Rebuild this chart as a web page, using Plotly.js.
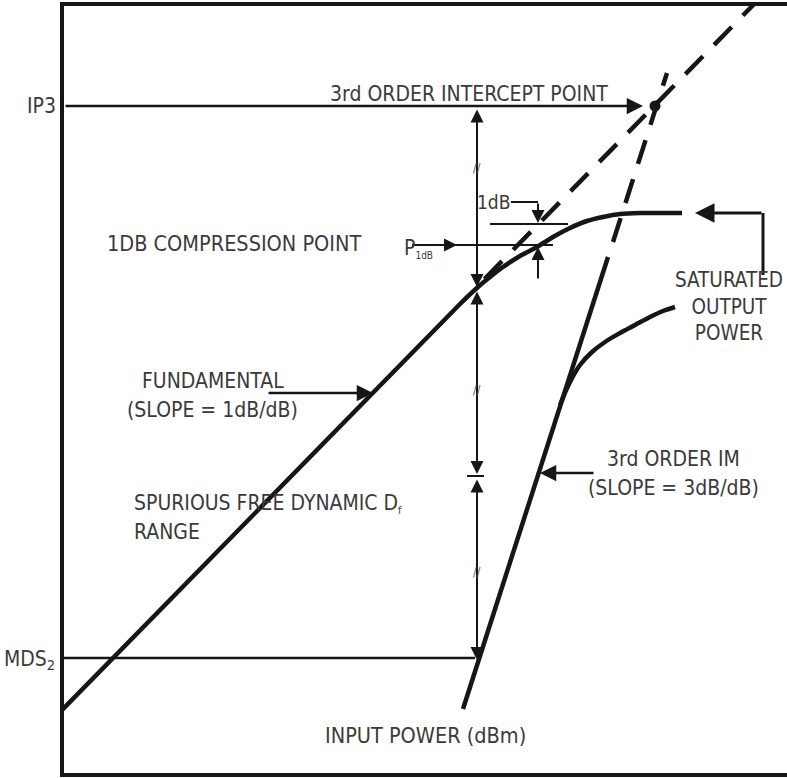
<!DOCTYPE html>
<html><head><meta charset="utf-8">
<script src="https://cdn.plot.ly/plotly-3.0.1.min.js"></script>
<style>html,body{margin:0;padding:0;background:#fff}#chart{width:787px;height:778px}</style>
</head><body><div id="chart"></div>
<script>
// Input power (x) and output power (y), dB units
const fundamentalIn  = [0, 79.6, 83.2, 85.6, 88.2, 91.6, 95.0, 98.2, 101.6, 105.0, 108.2, 111.6, 115.6, 124.0];
const fundamentalOut = [13, 94.2, 97.6, 99.6, 101.6, 103.8, 105.6, 107.6, 109.4, 110.8, 111.6, 112.2, 112.4, 112.4];
const fundamentalExtIn  = [84.5, 140];
const fundamentalExtOut = [99.2, 155.8];
const im3In  = [80.2, 109.2];
const im3Out = [13.2, 103.6];
const im3ExtIn  = [110.2, 121.0];
const im3ExtOut = [106.6, 140.4];
const im3SatIn  = [99.6, 101.6, 103.6, 106.0, 108.6, 111.6, 114.6, 117.6, 120.2, 122.6];
const im3SatOut = [74.0, 78.6, 82.0, 84.6, 86.6, 88.4, 90.0, 91.6, 92.8, 93.6];
const interceptIn = [118.6];
const interceptOut = [133.8];
// Levels and reference points
const ip3Level = 133.8;
const mdsLevel = 23.4;
const p1dbIn = 95.2;
const p1dbOut = 106.0;
const p1dbLinearOut = 110.2;
const sfdrMid = 59.8;
const measureIn = 83;
const satLevel = 112.4;
const satLeaderIn = 140.2;
// Labels
const labels = {
  ip3: 'IP3', mds: 'MDS<sub>2</sub>', toi: '3rd ORDER INTERCEPT POINT',
  comp: '1DB COMPRESSION POINT', p1db: 'P<sub><span style="font-size:10px">1dB</span></sub>', oneDb: '1dB',
  sat: 'SATURATED<br>OUTPUT<br>POWER', fund1: 'FUNDAMENTAL', fund2: '(SLOPE = 1dB/dB)',
  sfdr1: 'SPURIOUS FREE DYNAMIC D<sub><span style="font-size:11px">f</span></sub>', sfdr2: 'RANGE',
  im1: '3rd ORDER IM', im2: '(SLOPE = 3dB/dB)', xlab: 'INPUT POWER (dBm)'
};

const LC = '#161616';
const TC = '#3a3a3a';
const FONT = 'DejaVu Sans Condensed, DejaVu Sans, sans-serif';

function seg(x, y, w) {
  return {x: x, y: y, mode: 'lines', line: {color: LC, width: w}, hoverinfo: 'skip'};
}
const traces = [
  {x: fundamentalIn, y: fundamentalOut, mode: 'lines', line: {color: LC, width: 4.5, shape: 'spline', smoothing: 0.6}},
  {x: fundamentalExtIn, y: fundamentalExtOut, mode: 'lines', line: {color: LC, width: 4.5, dash: '25px,16px'}},
  {x: im3In, y: im3Out, mode: 'lines', line: {color: LC, width: 4.5}},
  {x: im3ExtIn, y: im3ExtOut, mode: 'lines', line: {color: LC, width: 4.5, dash: '25px,16px'}},
  {x: im3SatIn, y: im3SatOut, mode: 'lines', line: {color: LC, width: 4.5, shape: 'spline', smoothing: 1}},
  {x: interceptIn, y: interceptOut, mode: 'markers', marker: {color: LC, size: 11}},
  seg([0, measureIn - 0.4], [mdsLevel, mdsLevel], 2.5),
  seg([85.6, 101.2], [p1dbLinearOut, p1dbLinearOut], 2),
  seg([70, 98.2], [p1dbOut, p1dbOut], 2),
  seg([89.8, p1dbIn], [114.6, 114.6], 2),
  seg([satLeaderIn, satLeaderIn], [100, satLevel], 3),
  seg([81, 84.4], [sfdrMid, sfdrMid], 2)
];

function arrow(x, y, ax, ay, w, both) {
  const a = {x: x, y: y, ax: ax, ay: ay, xref: 'x', yref: 'y', axref: 'x', ayref: 'y',
    text: '', showarrow: true, arrowhead: 2, arrowsize: 1.3, arrowwidth: w, arrowcolor: LC,
    standoff: 0, startstandoff: 0};
  if (both) { a.arrowside = 'end+start'; a.startarrowhead = 2; a.startarrowsize = 1.3; }
  return a;
}
function txt(t, x, y, xanchor, size, xref, color) {
  return {text: t, x: x, y: y, xref: xref || 'x', yref: 'y', xanchor: xanchor, yanchor: 'middle',
    showarrow: false, font: {family: FONT, size: size || 21, color: color || TC}};
}

const annotations = [
  arrow(116.2, ip3Level, 0.4, ip3Level, 2.5, false),
  arrow(measureIn, 97.6, measureIn, 133.4, 2, true),
  arrow(measureIn, 60.2, measureIn, 97.0, 2, true),
  arrow(measureIn, 23.0, measureIn, 59.4, 2, true),
  arrow(p1dbIn, 110.4, p1dbIn, 114.6, 2, false),
  arrow(79, p1dbOut, 70, p1dbOut, 2, false),
  arrow(p1dbIn, 105.6, p1dbIn, 99, 2, false),
  arrow(126.6, satLevel, satLeaderIn, satLevel, 3, false),
  arrow(62.2, 76.4, 41, 76.4, 2.5, false),
  arrow(95.6, 60.4, 106.6, 60.4, 2.5, false),
  txt('//', measureIn, 121.4, 'center', 12, 'x', '#555'),
  txt('//', measureIn, 77, 'center', 12, 'x', '#555'),
  txt('//', measureIn, 40.6, 'center', 12, 'x', '#555'),
  txt(labels.ip3, -0.008, ip3Level, 'right', 21, 'paper'),
  txt(labels.mds, -0.009, mdsLevel - 0.4, 'right', 21, 'paper'),
  txt(labels.toi, 81.3, 136.2, 'center'),
  txt(labels.comp, 34.5, 106.4, 'center', 21.5),
  txt(labels.p1db, 68, 105.4, 'left'),
  txt(labels.oneDb, 82.6, 114.6, 'left', 19),
  txt(labels.sat, 133.4, 93.8, 'center', 20.5),
  txt(labels.fund1, 30.1, 78.8, 'center'),
  txt(labels.fund2, 30.1, 73, 'center'),
  txt(labels.sfdr1, 14, 54.3, 'left'),
  txt(labels.sfdr2, 14, 48.6, 'left'),
  txt(labels.im1, 122.2, 63.2, 'center'),
  txt(labels.im2, 122.2, 57.4, 'center'),
  txt(labels.xlab, 72.6, 8, 'center', 21.5)
];

const axisBase = {showgrid: false, zeroline: false, showticklabels: false, ticks: '',
  showline: true, linewidth: 4, linecolor: LC, fixedrange: true};
const layout = {
  width: 787, height: 778,
  margin: {l: 64, r: 0, t: 6, b: 5, pad: 0},
  paper_bgcolor: '#fff', plot_bgcolor: '#fff', showlegend: false,
  xaxis: Object.assign({}, axisBase, {range: [0.4, 145], mirror: true}),
  yaxis: Object.assign({}, axisBase, {range: [0.4, 153.8], mirror: false}),
  annotations: annotations
};
Plotly.newPlot('chart', traces, layout, {displayModeBar: false, staticPlot: true});
</script></body></html>
